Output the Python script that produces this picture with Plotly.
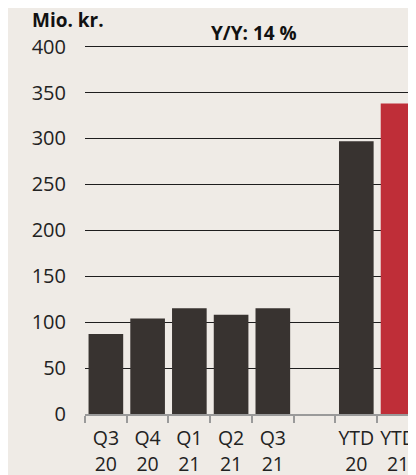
import plotly.graph_objects as go

categories = ["Q3<br>20", "Q4<br>20", "Q1<br>21", "Q2<br>21", "Q3<br>21", " ", "YTD<br>20", "YTD<br>21"]
values = [87, 104, 115, 108, 115, None, 297, 338]
colors = ["#383330"] * 7 + ["#BF2E38"]
y_ticks = [0, 50, 100, 150, 200, 250, 300, 350, 400]

BG = "#EFEBE6"
FONT = "Open Sans"

# page body has an 8px default margin, so the figure is sized/placed to compensate
fig = go.Figure(go.Bar(
    x=categories, y=values, marker_color=colors, marker_line_width=0,
    width=0.83, hoverinfo="skip"))

fig.update_layout(
    width=408, height=467,
    margin=dict(l=77, r=0, t=34, b=61, autoexpand=False),
    paper_bgcolor=BG, plot_bgcolor=BG,
    showlegend=False,
    font=dict(family=FONT, color="#222222", size=20),
    annotations=[
        dict(text="<b>Mio. kr.</b>", xref="paper", yref="paper", x=-0.167, y=1.06,
             xanchor="left", yanchor="middle", showarrow=False,
             font=dict(size=19, color="#111111", family=FONT)),
        dict(text="<b>Y/Y: 14 %</b>", x=3.55, y=1.023, xref="x", yref="paper",
             xanchor="center", yanchor="middle", showarrow=False,
             font=dict(size=19, color="#111111", family=FONT)),
    ],
)
fig.update_xaxes(
    type="category", range=[-0.5, 7.43], automargin=False, tickangle=0,
    showline=True, linecolor="#9a9a9a", linewidth=1.5,
    ticks="outside", tickson="boundaries", ticklen=7, tickcolor="#9a9a9a", tickwidth=1.5,
    showgrid=False, ticklabelstandoff=6,
    tickfont=dict(size=19.5, color="#222222"),
)
fig.update_yaxes(
    range=[0, 405], tickvals=y_ticks, showgrid=True, gridcolor="#1e1e1e", gridwidth=1.3,
    zeroline=False, ticks="", ticklabelstandoff=18, automargin=False,
    tickfont=dict(size=20, color="#222222"),
)
fig.write_html("out.html")
